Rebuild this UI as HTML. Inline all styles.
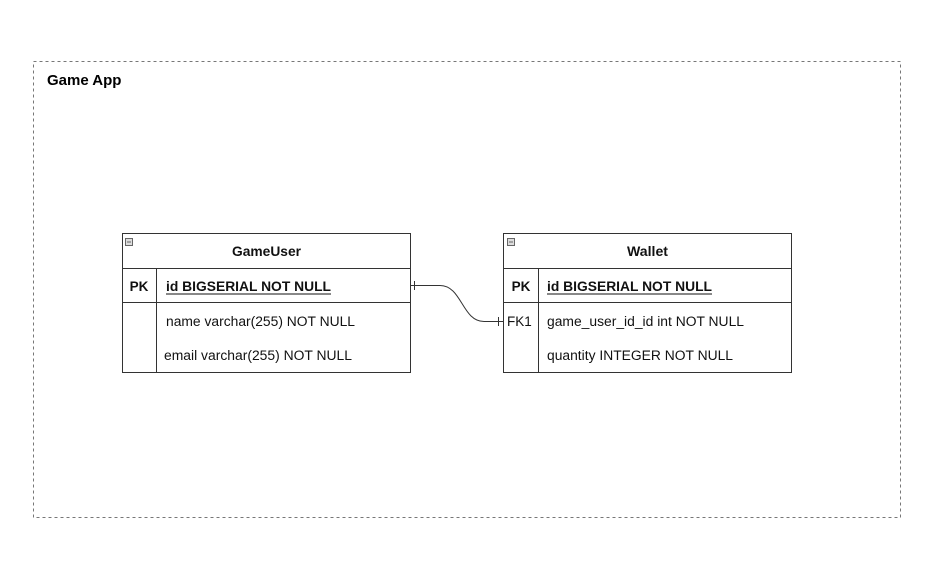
<!DOCTYPE html>
<html><head><meta charset="utf-8"><style>
html,body{margin:0;padding:0;background:#fff;}
svg{display:block;font-family:"Liberation Sans",Arial,sans-serif;}
</style></head><body>
<svg width="932" height="567" viewBox="0 0 932 567" xmlns="http://www.w3.org/2000/svg">
<rect x="33.5" y="61.5" width="867" height="456" fill="none" stroke="#777" stroke-dasharray="3,3"/>
<text x="47" y="85" font-size="15" font-weight="bold" fill="#000">Game App</text>

<g stroke="#333" fill="none">
<rect x="122.5" y="233.5" width="288" height="139"/>
<line x1="122" y1="268.5" x2="410" y2="268.5"/>
<line x1="122" y1="302.5" x2="410" y2="302.5"/>
<line x1="156.5" y1="268" x2="156.5" y2="372"/>
<rect x="125.5" y="238.5" width="7" height="7" fill="#ddd" stroke="#666"/>
<rect x="503.5" y="233.5" width="288" height="139"/>
<line x1="503" y1="268.5" x2="791" y2="268.5"/>
<line x1="503" y1="302.5" x2="791" y2="302.5"/>
<line x1="538.5" y1="268" x2="538.5" y2="372"/>
<rect x="507.5" y="238.5" width="7" height="7" fill="#ddd" stroke="#666"/>
<path d="M410 285.5 H440 C462 285.5 462 321.5 484 321.5 H503"/>
<line x1="414.5" y1="281" x2="414.5" y2="290"/>
<line x1="498.5" y1="317" x2="498.5" y2="326"/>
</g>
<line x1="127" y1="242" x2="131" y2="242" stroke="#666"/>
<line x1="509" y1="242" x2="513" y2="242" stroke="#666"/>

<g font-size="13.5" fill="#111">
<text x="232" y="256" font-weight="bold" textLength="69" lengthAdjust="spacingAndGlyphs">GameUser</text>
<text x="139" y="291" text-anchor="middle" font-weight="bold">PK</text>
<text x="166" y="291" font-weight="bold" textLength="165" lengthAdjust="spacingAndGlyphs">id BIGSERIAL NOT NULL</text>
<line x1="166" y1="294" x2="331" y2="294" stroke="#111"/>
<text x="166" y="326" textLength="189" lengthAdjust="spacingAndGlyphs">name varchar(255) NOT NULL</text>
<text x="164" y="360" textLength="188" lengthAdjust="spacingAndGlyphs">email varchar(255) NOT NULL</text>

<text x="627" y="256" font-weight="bold" textLength="41" lengthAdjust="spacingAndGlyphs">Wallet</text>
<text x="521" y="291" text-anchor="middle" font-weight="bold">PK</text>
<text x="547" y="291" font-weight="bold" textLength="165" lengthAdjust="spacingAndGlyphs">id BIGSERIAL NOT NULL</text>
<line x1="547" y1="294" x2="712" y2="294" stroke="#111"/>
<text x="507" y="326">FK1</text>
<text x="547" y="326" textLength="197" lengthAdjust="spacingAndGlyphs">game_user_id_id int NOT NULL</text>
<text x="547" y="360" textLength="186" lengthAdjust="spacingAndGlyphs">quantity INTEGER NOT NULL</text>
</g>
</svg>
</body></html>
